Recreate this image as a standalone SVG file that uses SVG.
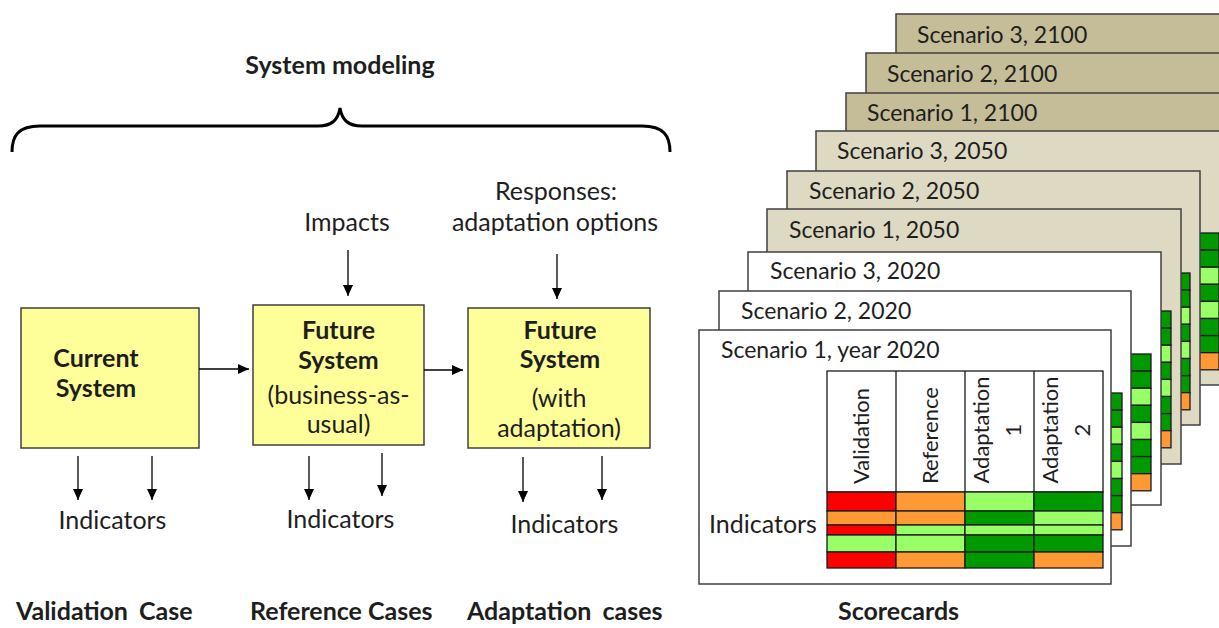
<svg xmlns="http://www.w3.org/2000/svg" width="1219" height="628" viewBox="0 0 1219 628">
<style>
.t{font-family:Lato,"Liberation Sans",sans-serif;fill:#1e1e1e}
.r{font-size:25px}
.b{font-size:25px;font-weight:bold}
.c{font-size:23px}
.h{font-size:22px}
.m{text-anchor:middle}
.box{fill:#FFFF99;stroke:#404040;stroke-width:1.5}
.card{stroke:#404040;stroke-width:1.5}
.w{fill:#FFFFFF}
.l{fill:#DDD9C3}
.d{fill:#C4BD97}
.cell{stroke:#1a1a1a;stroke-width:1.3}
.R{fill:#FF0000}.O{fill:#FF9933}.LG{fill:#99FF66}.DG{fill:#009900}
.ar{stroke:#000;stroke-width:1.3;fill:none;marker-end:url(#ah)}
</style>
<defs>
<marker id="ah" markerUnits="userSpaceOnUse" markerWidth="12" markerHeight="12" viewBox="0 0 12 12" refX="11" refY="6" orient="auto">
<path d="M0,1 L11,6 L0,11 Z" fill="#000"/>
</marker>
<g id="strip">
<rect class="cell DG" x="0" y="0" width="40" height="17.1"/>
<rect class="cell DG" x="0" y="17.1" width="40" height="17.1"/>
<rect class="cell LG" x="0" y="34.2" width="40" height="17.1"/>
<rect class="cell DG" x="0" y="51.3" width="40" height="17.1"/>
<rect class="cell LG" x="0" y="68.4" width="40" height="17.1"/>
<rect class="cell DG" x="0" y="85.5" width="40" height="17.1"/>
<rect class="cell DG" x="0" y="102.6" width="40" height="17.1"/>
<rect class="cell O" x="0" y="119.7" width="40" height="17.1"/>
</g>
</defs>
<rect width="1219" height="628" fill="#FFFFFF"/>

<!-- Left: system modeling -->
<g id="title">
<text class="t b m" x="340" y="74">System modeling</text>
<path d="M12,152 C12,136 18,126 40,126 L318,126 C332,126 338,120 340,108 C342,120 348,126 362,126 L642,126 C664,126 670,136 670,152" fill="none" stroke="#000" stroke-width="3"/>
</g>
<g id="impacts"><text class="t r m" x="347" y="231">Impacts</text></g>
<g id="responses">
<text class="t r m" x="556" y="200">Responses:</text>
<text class="t r m" x="555" y="231">adaptation options</text>
</g>

<g id="current-system">
<rect class="box" x="21" y="308" width="178" height="140"/>
<text class="t b m" x="96" y="367">Current</text>
<text class="t b m" x="96" y="397">System</text>
</g>
<g id="future-system-bau">
<rect class="box" x="253" y="305" width="171" height="140"/>
<text class="t b m" x="338.5" y="339">Future</text>
<text class="t b m" x="338.5" y="369">System</text>
<text class="t r m" x="338.5" y="404">(business-as-</text>
<text class="t r m" x="338.5" y="433">usual)</text>
</g>
<g id="future-system-adapt">
<rect class="box" x="468" y="308" width="182" height="140"/>
<text class="t b m" x="560" y="339">Future</text>
<text class="t b m" x="560" y="368">System</text>
<text class="t r m" x="559" y="407">(with</text>
<text class="t r m" x="559" y="437">adaptation)</text>
</g>

<g id="indicators-labels">
<text class="t r m" x="112.5" y="529">Indicators</text>
<text class="t r m" x="340.5" y="528">Indicators</text>
<text class="t r m" x="564.5" y="533">Indicators</text>
</g>

<g id="connectors">
<line class="ar" x1="199" y1="369" x2="249" y2="369"/>
<line class="ar" x1="424" y1="370" x2="463" y2="370"/>
<line class="ar" x1="348" y1="250" x2="348" y2="296"/>
<line class="ar" x1="557" y1="254" x2="557" y2="299"/>
<line class="ar" x1="78" y1="456" x2="78" y2="500"/>
<line class="ar" x1="152" y1="456" x2="152" y2="500"/>
<line class="ar" x1="309" y1="456" x2="309" y2="500"/>
<line class="ar" x1="382" y1="453" x2="382" y2="496"/>
<line class="ar" x1="523" y1="457" x2="523" y2="502"/>
<line class="ar" x1="602" y1="456" x2="602" y2="500"/>
</g>

<g id="case-labels">
<text class="t b" x="16" y="620" word-spacing="5">Validation Case</text>
<text class="t b" x="250" y="620">Reference Cases</text>
<text class="t b" x="467" y="620" word-spacing="5">Adaptation cases</text>
<text class="t b" x="838" y="620">Scorecards</text>
</g>

<!-- Scorecards stack (back to front) -->
<g id="card-s3-2100">
<rect class="card d" x="896" y="14" width="413" height="254"/>
<text class="t c" x="917" y="43">Scenario 3, 2100</text>
</g>
<g id="card-s2-2100">
<rect class="card d" x="866" y="53" width="413" height="254"/>
<text class="t c" x="887" y="82">Scenario 2, 2100</text>
</g>
<g id="card-s1-2100">
<rect class="card d" x="846" y="93" width="413" height="254"/>
<text class="t c" x="867" y="121">Scenario 1, 2100</text>
</g>
<g id="card-s3-2050">
<rect class="card l" x="816" y="131" width="413" height="254"/>
<use href="#strip" x="1179" y="233"/>
<text class="t c" x="837" y="159">Scenario 3, 2050</text>
</g>
<g id="card-s2-2050">
<rect class="card l" x="787" y="171" width="413" height="254"/>
<use href="#strip" x="1150" y="273"/>
<text class="t c" x="809" y="199">Scenario 2, 2050</text>
</g>
<g id="card-s1-2050">
<rect class="card l" x="767" y="209" width="414" height="255"/>
<use href="#strip" x="1131" y="311"/>
<text class="t c" x="789" y="238">Scenario 1, 2050</text>
</g>
<g id="card-s3-2020">
<rect class="card w" x="748" y="252" width="413" height="253"/>
<use href="#strip" x="1111" y="354"/>
<text class="t c" x="770" y="279">Scenario 3, 2020</text>
</g>
<g id="card-s2-2020">
<rect class="card w" x="719" y="291" width="412" height="255"/>
<use href="#strip" x="1082" y="393"/>
<text class="t c" x="741" y="319">Scenario 2, 2020</text>
</g>
<g id="card-s1-2020">
<rect class="card w" x="699" y="330" width="412" height="254"/>
<text class="t c" x="721" y="358">Scenario 1, year 2020</text>
<text class="t r m" x="763" y="533">Indicators</text>
<g id="table">
<rect x="827" y="371" width="276" height="121" fill="#fff" stroke="#1a1a1a" stroke-width="1.3"/>
<line x1="896" y1="371" x2="896" y2="492" stroke="#1a1a1a" stroke-width="1.3"/>
<line x1="965" y1="371" x2="965" y2="492" stroke="#1a1a1a" stroke-width="1.3"/>
<line x1="1034" y1="371" x2="1034" y2="492" stroke="#1a1a1a" stroke-width="1.3"/>
<text class="t h" transform="translate(869,484) rotate(-90)">Validation</text>
<text class="t h" transform="translate(938,484) rotate(-90)">Reference</text>
<text class="t h m" transform="translate(965,430) rotate(-90)"><tspan x="0" y="24">Adaptation</tspan><tspan x="0" y="56">1</tspan></text>
<text class="t h m" transform="translate(1034,430) rotate(-90)"><tspan x="0" y="24">Adaptation</tspan><tspan x="0" y="56">2</tspan></text>
<rect class="cell R" x="827" y="492" width="69" height="19"/>
<rect class="cell O" x="896" y="492" width="69" height="19"/>
<rect class="cell LG" x="965" y="492" width="69" height="19"/>
<rect class="cell DG" x="1034" y="492" width="69" height="19"/>
<rect class="cell O" x="827" y="511" width="69" height="14"/>
<rect class="cell O" x="896" y="511" width="69" height="14"/>
<rect class="cell DG" x="965" y="511" width="69" height="14"/>
<rect class="cell LG" x="1034" y="511" width="69" height="14"/>
<rect class="cell R" x="827" y="525" width="69" height="10"/>
<rect class="cell LG" x="896" y="525" width="69" height="10"/>
<rect class="cell LG" x="965" y="525" width="69" height="10"/>
<rect class="cell LG" x="1034" y="525" width="69" height="10"/>
<rect class="cell LG" x="827" y="535" width="69" height="17"/>
<rect class="cell LG" x="896" y="535" width="69" height="17"/>
<rect class="cell DG" x="965" y="535" width="69" height="17"/>
<rect class="cell DG" x="1034" y="535" width="69" height="17"/>
<rect class="cell R" x="827" y="552" width="69" height="16"/>
<rect class="cell O" x="896" y="552" width="69" height="16"/>
<rect class="cell DG" x="965" y="552" width="69" height="16"/>
<rect class="cell O" x="1034" y="552" width="69" height="16"/>
</g>
</g>
</svg>
